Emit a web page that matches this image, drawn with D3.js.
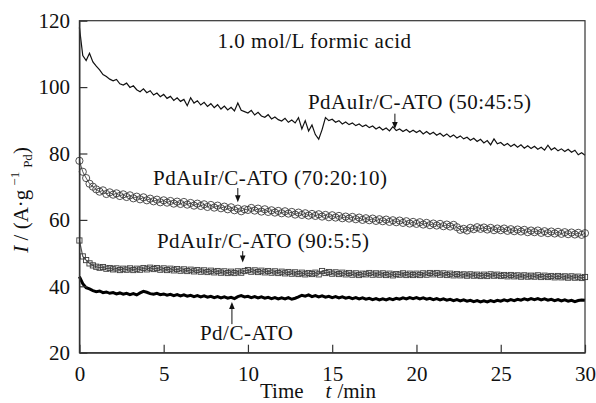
<!DOCTYPE html>
<html>
<head>
<meta charset="utf-8">
<script src="https://cdn.jsdelivr.net/npm/d3@7"></script>
<style>
  body { margin: 0; background: #fff; }
  svg { display: block; }
  svg text { font-family: "Liberation Serif", "Times New Roman", Times, "DejaVu Serif", serif; }
</style>
</head>
<body>
<svg width="596" height="403"></svg>
<script>
// sampling grid: one reading every 0.2 min, 0..30 min
const times = d3.range(0, 150.5, 1).map((i) => i / 5);

const pdAuIr50 = [
  118, 109.5, 108, 110.2, 107.6, 106.3, 105.2, 103.8, 103.2, 102.4,
  101.9, 102.3, 101.0, 100.6, 101.2, 99.9, 100.4, 99.2, 98.6, 99.5,
  98.3, 98.9, 97.6, 98.2, 97.1, 97.8, 96.6, 97.2, 96.0, 96.8,
  95.7, 96.3, 94.4, 96.8, 95.2, 95.9, 94.6, 95.4, 94.2, 95.0,
  93.8, 94.7, 93.4, 94.3, 93.1, 93.9, 92.8, 95.2, 93.0, 92.6,
  92.2, 93.0, 91.6, 92.4, 91.3, 90.9, 91.7, 90.4, 91.0, 90.2,
  89.8, 90.6, 89.4, 90.1, 89.2, 90.8, 87.4, 89.9, 86.8, 88.6,
  85.7, 84.3, 87.2, 90.8, 89.9, 90.3, 89.4, 89.9, 88.9, 89.5,
  88.7, 89.2, 88.4, 88.9, 88.1, 88.6, 87.8, 88.3, 87.4, 88.0,
  87.1, 87.7, 86.8, 88.1, 86.9, 87.4, 86.6, 87.2, 86.4, 87.0,
  86.3, 86.9, 85.9, 86.6, 85.8, 86.4, 85.5, 86.1, 85.2, 85.9,
  85.0, 85.6, 84.7, 85.3, 84.4, 84.9, 84.0, 84.6, 83.6, 84.3,
  83.2, 83.9, 82.6, 84.4, 82.9, 83.3, 82.4, 83.0, 82.1, 82.8,
  81.9, 82.6, 81.6, 82.3, 81.5, 82.2, 81.3, 81.9, 81.0, 82.5,
  81.1, 81.7, 80.8, 81.4, 80.6, 81.3, 80.4, 81.0, 79.6, 80.2,
  79.5
];

const pdAuIr70 = [
  77.8, 74.5, 72.6, 70.9, 70.0, 69.2, 68.5, 68.9, 67.8, 68.3,
  67.6, 68.0, 67.2, 67.7, 66.9, 67.4, 66.5, 67.0, 66.2, 66.8,
  65.9, 66.4, 65.6, 66.1, 65.3, 65.9, 65.2, 65.7, 64.9, 65.5,
  64.8, 65.4, 64.6, 65.1, 64.3, 64.9, 64.2, 64.7, 63.9, 64.5,
  63.7, 64.3, 63.5, 64.0, 63.2, 63.8, 62.9, 63.4, 62.6, 63.2,
  63.0, 63.6, 62.8, 63.4, 62.5, 63.2, 62.4, 62.9, 62.2, 62.7,
  62.0, 62.6, 61.9, 62.4, 61.6, 62.2, 61.5, 62.0, 61.3, 61.8,
  61.2, 61.7, 61.0, 61.5, 60.8, 61.4, 60.7, 61.2, 60.5, 61.0,
  60.4, 60.9, 60.2, 60.7, 60.0, 60.5, 59.9, 60.4, 59.7, 60.2,
  59.6, 60.1, 59.4, 59.9, 59.3, 59.8, 59.1, 59.6, 58.9, 59.4,
  58.8, 59.3, 58.6, 59.1, 58.4, 58.9, 58.3, 58.8, 58.1, 58.6,
  58.0, 58.5, 57.8, 57.0, 57.3, 56.8, 57.6, 57.2, 57.8, 57.3,
  57.7, 57.1, 57.6, 56.9, 57.4, 56.9, 57.4, 56.7, 57.2, 56.6,
  57.1, 56.5, 57.0, 56.3, 56.8, 56.3, 56.8, 56.1, 56.6, 56.0,
  56.5, 55.9, 56.4, 55.8, 56.3, 55.7, 56.2, 55.6, 56.1, 55.5,
  56.0
];

const pdAuIr90 = [
  53.8, 49.0, 47.9, 46.9, 46.3, 45.9, 45.6, 45.8, 45.3, 45.5,
  45.1, 45.4, 44.9, 45.3, 45.0, 45.4, 44.9, 45.3, 45.0, 45.5,
  45.1, 45.6, 45.2, 45.5, 45.0, 45.4, 44.9, 45.3, 44.8, 45.2,
  44.7, 45.1, 44.6, 45.0, 44.5, 44.9, 44.4, 44.8, 44.3, 44.7,
  44.2, 44.6, 44.1, 44.5, 44.0, 44.4, 44.0, 44.5, 44.1, 44.6,
  44.9, 44.4, 44.8, 44.3, 44.7, 44.2, 44.6, 44.1, 44.5, 44.0,
  44.4, 43.9, 44.3, 43.8, 44.2, 43.7, 44.1, 43.6, 44.0, 43.7,
  44.1, 43.6, 44.6, 44.0, 44.3, 43.8, 44.2, 43.7, 44.1, 43.6,
  44.0, 43.5, 43.9, 43.4, 43.8, 43.6, 44.0, 43.5, 43.9, 43.5,
  43.9, 43.4, 43.8, 43.3, 43.7, 43.5, 43.9, 43.4, 43.8, 43.4,
  43.8, 43.4, 43.9, 43.5, 44.0, 43.6, 44.0, 43.5, 43.9, 43.4,
  43.8, 43.3, 43.7, 43.3, 43.6, 43.2, 43.6, 43.2, 43.5, 43.1,
  43.5, 43.1, 43.6, 43.2, 43.5, 43.1, 43.4, 43.0, 43.4, 43.0,
  43.3, 42.9, 43.3, 42.9, 43.2, 42.9, 43.3, 42.8, 43.2, 42.8,
  43.1, 42.7, 43.1, 42.7, 43.0, 42.6, 43.0, 42.6, 42.9, 42.5,
  42.8
];

const pdC = [
  42.9, 40.8, 39.6, 39.2, 38.7, 38.4, 38.6, 38.1, 38.3, 37.9,
  38.1, 37.7, 38.0, 37.6, 37.9, 37.5, 37.8, 37.4, 38.0, 38.5,
  38.2, 37.8, 37.6, 37.9, 37.5, 37.7, 37.3, 37.6, 37.2, 37.5,
  37.1, 37.4, 37.0, 37.3, 36.9, 37.2, 36.8, 37.1, 36.7, 37.0,
  36.6, 36.9, 36.5, 36.8, 36.4, 36.7, 36.3, 36.9, 37.2, 36.8,
  37.0, 36.6, 36.9, 36.5, 36.8, 36.4, 36.7, 36.3, 36.6, 36.2,
  36.5, 36.2, 36.6, 36.1, 36.4, 36.8, 37.3, 37.0, 37.4, 36.9,
  37.2, 36.8, 37.1, 36.7, 37.0, 36.6, 36.9, 36.5, 36.8, 36.4,
  36.7, 36.3, 36.6, 36.2, 36.5, 36.1, 36.4, 36.0, 36.3, 35.9,
  36.2, 35.9, 36.3, 36.0, 36.4, 36.1, 36.5, 36.2, 36.6, 36.3,
  36.6, 36.2, 36.5, 36.1, 36.4, 36.0, 36.3, 35.9, 36.2, 35.8,
  36.1, 35.7, 36.0, 35.6, 35.9, 35.5, 35.8, 35.4, 35.7, 35.3,
  35.6, 35.3, 35.7, 35.4, 35.8, 35.5, 35.9, 35.6, 36.0, 35.7,
  36.1, 35.8, 36.2, 35.9, 36.3, 36.0, 36.3, 35.9, 36.2, 35.8,
  36.1, 35.7, 36.0, 35.6, 35.9, 35.5, 35.8, 35.4, 35.7, 35.9,
  35.8
];

const xTicks = [0, 5, 10, 15, 20, 25, 30];
const xMinor = [2.5, 7.5, 12.5, 17.5, 22.5, 27.5];
const yTicks = [20, 40, 60, 80, 100, 120];
const yMinor = [30, 50, 70, 90, 110];

// text labels at (t, I); arrows: [t, from I, to I]
const notes = [
  { t: 8.2, v: 111.8, text: "1.0 mol/L formic acid" },
  { t: 13.56, v: 93.4, text: "PdAuIr/C-ATO (50:45:5)", arrow: [18.72, 92.0, 87.4] },
  { t: 4.37, v: 70.5, text: "PdAuIr/C-ATO (70:20:10)", arrow: [9.4, 69.6, 65.3] },
  { t: 4.6, v: 51.5, text: "PdAuIr/C-ATO (90:5:5)", arrow: [9.69, 50.6, 47.2] },
  { t: 7.15, v: 23.8, text: "Pd/C-ATO", arrow: [9.05, 28.6, 35.3] }
];

const serif = "'Liberation Serif', 'Times New Roman', Times, 'DejaVu Serif', serif";
const margin = { top: 20.7, right: 11, bottom: 50.3, left: 79.4 };
const width = 596, height = 403;
const fs = 21;

const svg = d3.select("svg");
const x = d3.scaleLinear().domain([0, 30]).range([margin.left, width - margin.right]);
const y = d3.scaleLinear().domain([20, 120]).range([height - margin.bottom, margin.top]);

const g = svg.append("g");

// series
const pts = (vals) => vals.map((v, i) => [times[i], v]);
const line = d3.line().x((d) => x(d[0])).y((d) => y(d[1]));

g.append("path")
  .datum(pts(pdAuIr50))
  .attr("d", line)
  .attr("fill", "none")
  .attr("stroke", "#111")
  .attr("stroke-width", 1.2);

g.append("path")
  .datum(pts(pdAuIr70))
  .attr("d", line)
  .attr("fill", "none")
  .attr("stroke", "#555")
  .attr("stroke-width", 1);
g.selectAll(".circ")
  .data(pts(pdAuIr70))
  .enter()
  .append("circle")
  .attr("cx", (d) => x(d[0]))
  .attr("cy", (d) => y(d[1]))
  .attr("r", 3.6)
  .attr("fill", "none")
  .attr("stroke", "#3c3c3c")
  .attr("stroke-width", 0.9);

g.append("path")
  .datum(pts(pdAuIr90))
  .attr("d", line)
  .attr("fill", "none")
  .attr("stroke", "#555")
  .attr("stroke-width", 1.2);
g.selectAll(".sq")
  .data(pts(pdAuIr90))
  .enter()
  .append("rect")
  .attr("x", (d) => x(d[0]) - 2.6)
  .attr("y", (d) => y(d[1]) - 2.6)
  .attr("width", 5.2)
  .attr("height", 5.2)
  .attr("fill", "none")
  .attr("stroke", "#3c3c3c")
  .attr("stroke-width", 0.9);

g.append("path")
  .datum(pts(pdC))
  .attr("d", line)
  .attr("fill", "none")
  .attr("stroke", "#000")
  .attr("stroke-width", 3);

// frame
svg.append("rect")
  .attr("x", x(0))
  .attr("y", y(120))
  .attr("width", x(30) - x(0))
  .attr("height", y(20) - y(120))
  .attr("fill", "none")
  .attr("stroke", "#333")
  .attr("stroke-width", 1.2);

// axes, ticks inward
const axX = svg.append("g").attr("transform", `translate(0,${y(20)})`);
axX.call(d3.axisBottom(x).tickValues(xMinor).tickSize(-4).tickSizeOuter(0).tickFormat(""));
axX.call(d3.axisBottom(x).tickValues(xTicks).tickSize(-8).tickSizeOuter(0).tickPadding(13));

const axY = svg.append("g").attr("transform", `translate(${x(0)},0)`);
axY.call(d3.axisLeft(y).tickValues(yMinor).tickSize(-4).tickSizeOuter(0).tickFormat(""));
axY.call(d3.axisLeft(y).tickValues(yTicks).tickSize(-8).tickSizeOuter(0).tickPadding(9.5));

svg.selectAll("g").attr("font-family", serif);
svg.selectAll(".domain").attr("stroke", "#333").attr("stroke-width", 1.2);
svg.selectAll(".tick line").attr("stroke", "#333").attr("stroke-width", 1.2);
svg.selectAll(".tick text")
  .attr("font-family", serif)
  .attr("font-size", fs)
  .attr("fill", "#111");

// annotations
notes.forEach((n) => {
  svg.append("text")
    .attr("x", x(n.t))
    .attr("y", y(n.v))
    .attr("font-family", serif)
    .attr("font-size", fs)
    .attr("letter-spacing", 0.5)
    .attr("fill", "#111")
    .text(n.text);
  if (n.arrow) {
    const [at, v0, v1] = n.arrow;
    const ax = x(at), y0 = y(v0), y1 = y(v1);
    const dir = y1 > y0 ? 1 : -1;
    svg.append("line")
      .attr("x1", ax).attr("x2", ax)
      .attr("y1", y0).attr("y2", y1 - dir * 6)
      .attr("stroke", "#111").attr("stroke-width", 1);
    svg.append("path")
      .attr("d", `M${ax},${y1} L${ax - 2.8},${y1 - dir * 7} L${ax + 2.8},${y1 - dir * 7} Z`)
      .attr("fill", "#111");
  }
});

// axis titles
const xt = svg.append("text")
  .attr("x", 260)
  .attr("y", 398)
  .attr("font-family", serif)
  .attr("font-size", fs)
  .attr("fill", "#111");
xt.append("tspan").text("Time");
xt.append("tspan").attr("dx", 22).attr("font-style", "italic").text("t");
xt.append("tspan").attr("dx", 6).text("/min");

const yt = svg.append("text")
  .attr("transform", `translate(28,${(y(20) + y(120)) / 2 + 66}) rotate(-90)`)
  .attr("font-family", serif)
  .attr("font-size", fs)
  .attr("fill", "#111");
yt.append("tspan").attr("font-style", "italic").text("I");
yt.append("tspan").text(" / (A·g");
yt.append("tspan").attr("font-size", 13).attr("dx", 4).attr("dy", -9).text("−1");
yt.append("tspan").attr("font-size", 13).attr("dx", 4).attr("dy", 13).text("Pd");
yt.append("tspan").attr("dy", -4).text(")");
</script>
</body>
</html>
